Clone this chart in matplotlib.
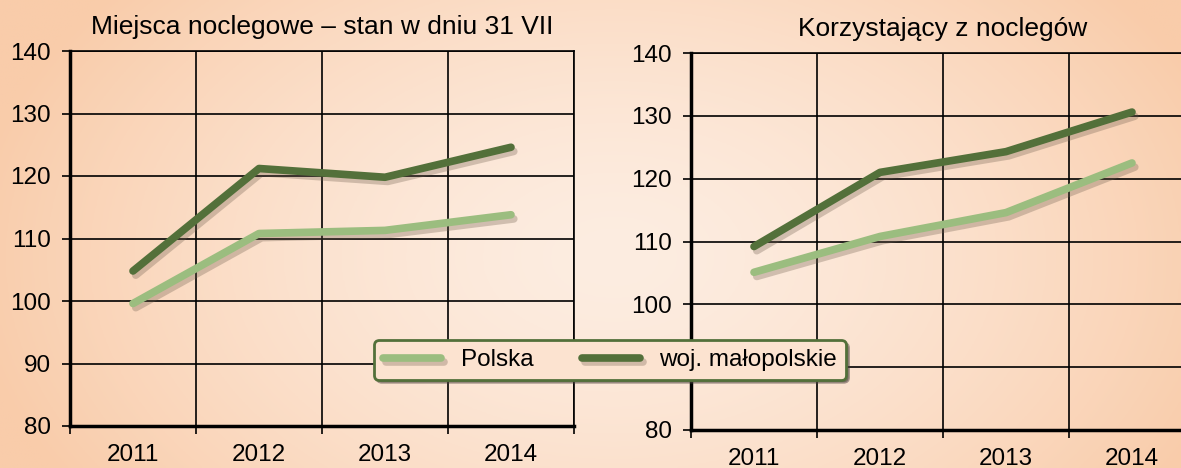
import numpy as np
import matplotlib
matplotlib.use('Agg')
from matplotlib import pyplot as plt
from matplotlib import patheffects as pe

plt.rcParams['font.family'] = ['Liberation Sans', 'DejaVu Sans']

# Dane
lata = ['2011', '2012', '2013', '2014']
miejsca_polska = [99.6, 110.8, 111.3, 113.8]
miejsca_malopolskie = [104.8, 121.2, 119.8, 124.6]
korzystajacy_polska = [105.1, 110.8, 114.6, 122.5]
korzystajacy_malopolskie = [109.2, 121.0, 124.3, 130.6]

tytul_lewy = 'Miejsca noclegowe – stan w dniu 31 VII'
tytul_prawy = 'Korzystający z noclegów'
etykiety = ['Polska', 'woj. małopolskie']

JASNY = '#9bbd7f'
CIEMNY = '#53703a'
FS = 17.5

fig = plt.figure(figsize=(11.81, 4.68), dpi=100)

# tlo - gradient radialny
bg = fig.add_axes([0, 0, 1, 1], zorder=-10)
yy, xx = np.mgrid[0:1:200j, 0:1:400j]
r = np.sqrt(((xx - 0.52) / 0.55) ** 2 + ((yy - 0.55) / 0.9) ** 2)
r = np.clip(r, 0, 1) ** 1.5
c_srodek = np.array([253, 237, 225]) / 255
c_brzeg = np.array([249, 204, 170]) / 255
img = c_srodek[None, None, :] * (1 - r[..., None]) + c_brzeg[None, None, :] * r[..., None]
bg.imshow(img, aspect='auto', extent=[0, 1, 0, 1])
bg.axis('off')

cien = [pe.SimpleLineShadow(offset=(2, -3), shadow_color='#6b5a4a', alpha=0.3), pe.Normal()]


def wykres(ax, polska, malo, tytul):
    x = np.arange(len(lata))
    ax.set_facecolor('none')
    ax.plot(x, polska, color=JASNY, lw=5.5, solid_capstyle='round',
            solid_joinstyle='round', path_effects=cien, label=etykiety[0], zorder=3)
    ax.plot(x, malo, color=CIEMNY, lw=5.5, solid_capstyle='round',
            solid_joinstyle='round', path_effects=cien, label=etykiety[1], zorder=3)
    ax.set_xlim(-0.5, 3.5)
    ax.set_ylim(80, 140)
    ax.set_yticks(range(80, 141, 10))
    ax.set_xticks(x)
    ax.set_xticklabels(lata)
    ax.set_xticks(np.arange(-0.5, 3.6, 1), minor=True)
    ax.tick_params(axis='x', which='major', length=0, pad=13, labelsize=FS)
    ax.tick_params(axis='x', which='minor', length=6, width=1.2, direction='out')
    ax.tick_params(axis='y', length=6, width=1.2, pad=8, labelsize=FS)
    ax.grid(True, which='minor', axis='x', color='black', lw=1.2)
    ax.grid(True, which='major', axis='y', color='black', lw=1.2)
    for s in ['top', 'right']:
        ax.spines[s].set_linewidth(1.2)
    for s in ['left', 'bottom']:
        ax.spines[s].set_linewidth(2.5)
    ax.set_axisbelow(True)
    ax.set_title(tytul, fontsize=FS + 1.5, pad=12)


ax1 = fig.add_axes([70 / 1181, 42 / 468, 504 / 1181, 375 / 468])
wykres(ax1, miejsca_polska, miejsca_malopolskie, tytul_lewy)
ax2 = fig.add_axes([691 / 1181, 38 / 468, 504 / 1181, 377 / 468])
wykres(ax2, korzystajacy_polska, korzystajacy_malopolskie, tytul_prawy)
# etykieta 90 jest zaslonieta legenda
ax2.set_yticklabels(['80', '', '100', '110', '120', '130', '140'])

h, l = ax1.get_legend_handles_labels()
leg = fig.legend(h, l, loc='center', bbox_to_anchor=(610 / 1181, 108 / 468), ncol=2,
                 fontsize=FS, frameon=True, fancybox=True, shadow=True,
                 handlelength=2.4, columnspacing=2.0, borderpad=0.35, handletextpad=0.8)
leg.get_frame().set_edgecolor(CIEMNY)
leg.get_frame().set_linewidth(2)
leg.get_frame().set_facecolor('#fce3d0')
leg.get_frame().set_alpha(1)
leg.set_zorder(10)

fig.savefig('out.png', dpi=100)
